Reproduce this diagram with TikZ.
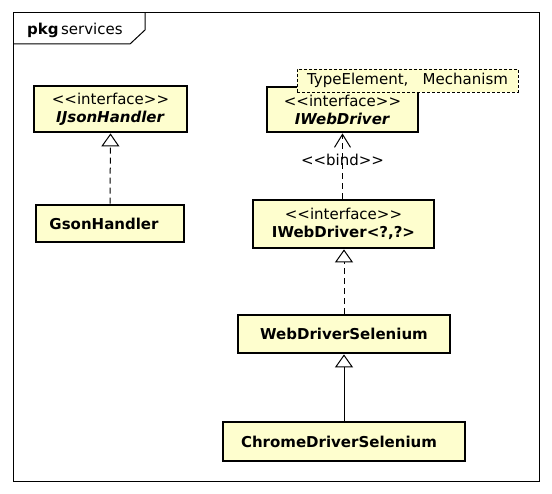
\documentclass[tikz,border=0pt]{standalone}
\usepackage{fontspec}
\setmainfont{DejaVu Sans}
\usepackage{tikz}
\usetikzlibrary{positioning, arrows.meta}

\definecolor{umlfill}{HTML}{FEFECE}
% stereotype text, kerns keep << and >> apart
\newcommand{\stereo}[1]{<\kern0pt<#1>\kern0pt>}

\begin{document}
\begin{tikzpicture}[x=1pt, y=-1pt,
    every node/.style={font=\fontsize{15}{18}\selectfont},
    classbox/.style={draw, line width=2.8pt, fill=umlfill, align=center, inner sep=0pt},
    realize/.style={dash pattern=on 6pt off 4pt, -{Triangle[open, length=13pt, width=18pt]}},
    extend/.style={-{Triangle[open, length=13pt, width=18pt]}},
    bindarrow/.style={dash pattern=on 6pt off 4pt, -{Straight Barb[length=13pt, width=16pt]}}]
    \useasboundingbox (0,0) rectangle (552,494);

    % Package frame
    \draw[line width=1pt] (13,13) rectangle (539,481);
    \draw[line width=1pt] (13,44) -- (130,44) -- (145,30) -- (145,13);
    \node[anchor=west, inner sep=0pt] (pkg) at (27,30) {\textbf{pkg}\,services};

    % Classes
    \node[classbox, minimum width=153pt, minimum height=46pt] (ijson) at (110.5,109)
      {\stereo{interface}\\\textbf{\textit{IJsonHandler}}};
    \node[classbox, minimum width=148pt, minimum height=37pt] (gson) at (110,223.5)
      {\textbf{GsonHandler}\hspace*{12pt}};
    \node[classbox, minimum width=151pt, minimum height=45pt] (iweb) at (342.5,109.5)
      {\stereo{interface}\\\textbf{\textit{IWebDriver}}};
    \node[classbox, minimum width=181pt, minimum height=48pt] (iwebq) at (343.5,224)
      {\stereo{interface}\\\textbf{IWebDriver<?,?>}};
    \node[classbox, minimum width=212pt, minimum height=38pt] (wds) at (344,334)
      {\textbf{WebDriverSelenium}};
    \node[classbox, minimum width=242pt, minimum height=39pt] (cds) at (344,441.5)
      {\textbf{ChromeDriverSelenium}\hspace*{10pt}};

    % Template parameters
    \node[draw, dash pattern=on 3pt off 2pt, line width=0.8pt, fill=umlfill,
      minimum width=221pt, minimum height=23pt, inner sep=0pt] (tparams) at (407.5,80.5)
      {TypeElement,\ \ \ Mechanism};

    % Relations
    \draw[realize, line width=1pt] (gson.north) -- (ijson.south);
    \draw[bindarrow, line width=1pt] (iwebq.north -| iweb.south) -- (iweb.south)
      node[pos=0.6, inner sep=0pt] (bindlbl) {\stereo{bind}};
    \draw[realize, line width=1pt] (wds.north) -- (wds.north |- iwebq.south);
    \draw[extend, line width=1pt] (cds.north) -- (wds.south);
  \end{tikzpicture}
\end{document}
